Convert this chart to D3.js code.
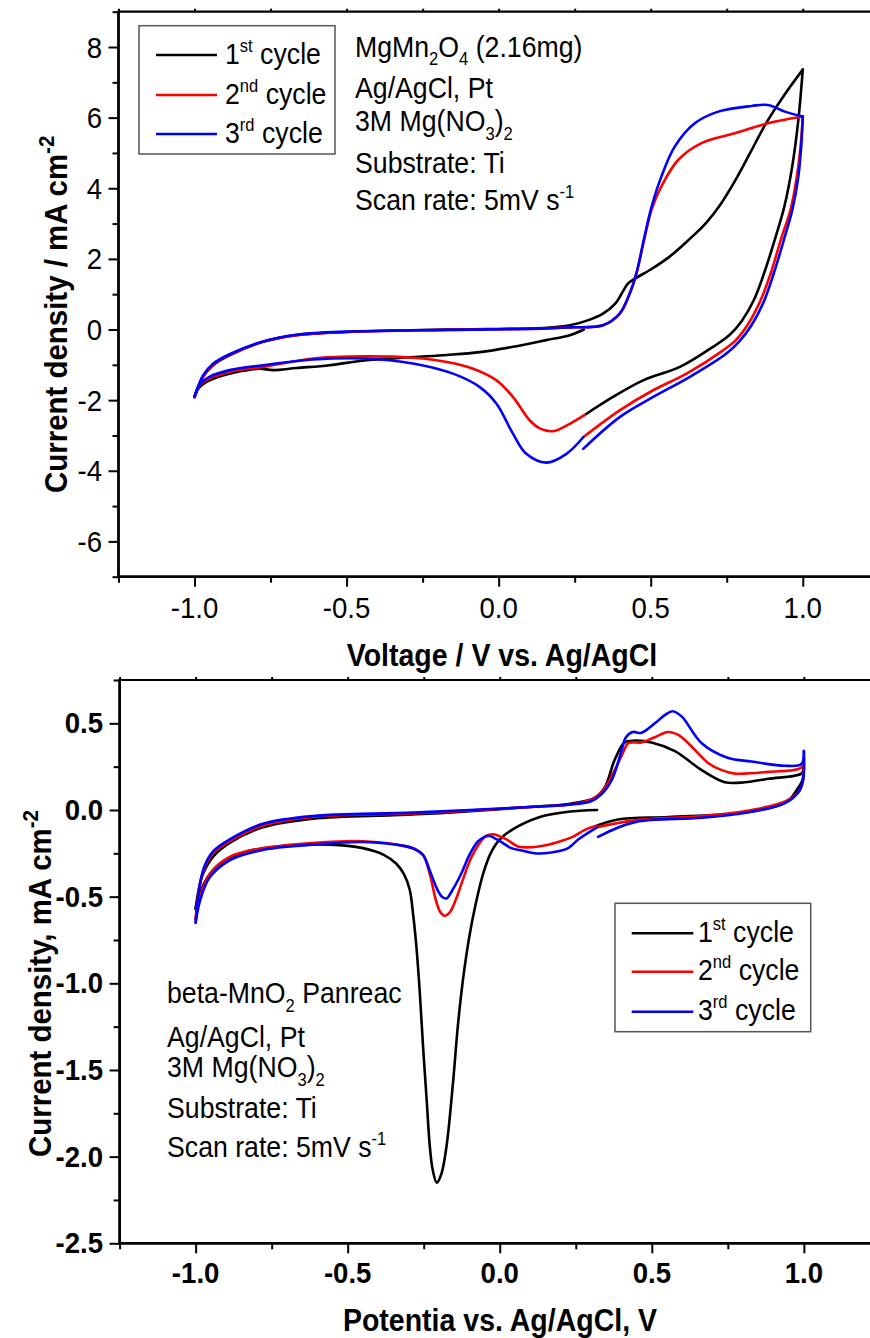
<!DOCTYPE html>
<html>
<head>
<meta charset="utf-8">
<script src="https://cdn.jsdelivr.net/npm/d3@7"></script>
<style>
  html, body { margin: 0; padding: 0; background: #fff; }
  svg { display: block; }
</style>
</head>
<body>
<svg id="fig" width="870" height="1338"></svg>
<script>
// ---------- data: cyclic voltammograms, [potential V, current density mA cm^-2] in scan order ----------

// Panel A: MgMn2O4 (2.16 mg), potential vs Ag/AgCl
const mgmnCycle1 = [
  [0.28, 0.0], [0.234, -0.16], [0.157, -0.3], [0.047, -0.49], [-0.062, -0.64], [-0.17, -0.72],
  [-0.282, -0.78], [-0.435, -0.87], [-0.556, -1.01], [-0.665, -1.09], [-0.742, -1.15], [-0.786, -1.11],
  [-0.84, -1.17], [-0.885, -1.25], [-0.951, -1.44], [-0.985, -1.65], [-1.0, -1.91],
  [-0.972, -1.34], [-0.939, -1.01], [-0.885, -0.73], [-0.775, -0.35], [-0.665, -0.16], [-0.5, -0.07],
  [-0.17, 0.0], [0.157, 0.05], [0.234, 0.12], [0.3, 0.28], [0.343, 0.45], [0.385, 0.75], [0.41, 1.1],
  [0.425, 1.3], [0.45, 1.45], [0.5, 1.7], [0.56, 2.05], [0.62, 2.5], [0.68, 3.0], [0.73, 3.55],
  [0.78, 4.25], [0.83, 5.05], [0.88, 5.85], [0.94, 6.65], [1.0, 7.36],
  [0.985, 5.9], [0.965, 4.6], [0.94, 3.5], [0.91, 2.6], [0.875, 1.65], [0.84, 0.85], [0.8, 0.25],
  [0.76, -0.15], [0.705, -0.49], [0.596, -1.06], [0.475, -1.44], [0.376, -1.91], [0.283, -2.42]
];
const mgmnCycle2 = [
  [0.283, -2.42], [0.234, -2.67], [0.179, -2.88], [0.135, -2.8], [0.102, -2.57], [0.047, -1.91],
  [-0.007, -1.44], [-0.084, -1.11], [-0.17, -0.92], [-0.282, -0.8], [-0.446, -0.76], [-0.61, -0.82],
  [-0.775, -1.06], [-0.885, -1.2], [-0.951, -1.39], [-0.985, -1.6], [-1.0, -1.91],
  [-0.972, -1.34], [-0.939, -1.0], [-0.885, -0.72], [-0.775, -0.35], [-0.665, -0.16], [-0.5, -0.07],
  [-0.17, -0.01], [0.157, 0.03], [0.234, 0.06], [0.343, 0.12], [0.398, 0.45], [0.431, 1.02],
  [0.453, 1.59], [0.48, 2.6], [0.503, 3.4], [0.535, 4.05], [0.59, 4.8], [0.667, 5.28], [0.777, 5.56],
  [0.886, 5.84], [0.941, 5.94], [1.0, 6.03],
  [0.993, 5.2], [0.98, 4.3], [0.96, 3.4], [0.93, 2.6], [0.895, 1.6], [0.86, 0.8], [0.82, 0.15],
  [0.78, -0.3], [0.738, -0.59], [0.618, -1.25], [0.508, -1.72], [0.398, -2.29], [0.278, -3.05]
];
const mgmnCycle3 = [
  [0.278, -3.05], [0.223, -3.52], [0.157, -3.77], [0.091, -3.52], [0.047, -2.95], [-0.007, -2.1],
  [-0.062, -1.63], [-0.15, -1.25], [-0.282, -0.96], [-0.446, -0.82], [-0.61, -0.85], [-0.775, -1.01],
  [-0.885, -1.15], [-0.951, -1.34], [-0.985, -1.58], [-1.0, -1.91],
  [-0.972, -1.3], [-0.939, -0.97], [-0.885, -0.7], [-0.775, -0.34], [-0.665, -0.15], [-0.5, -0.06],
  [-0.17, -0.01], [0.157, 0.03], [0.234, 0.06], [0.343, 0.12], [0.398, 0.45], [0.431, 1.02],
  [0.453, 1.59], [0.48, 2.65], [0.503, 3.48], [0.535, 4.33], [0.579, 5.18], [0.645, 5.84],
  [0.722, 6.17], [0.832, 6.33], [0.886, 6.36], [0.941, 6.17], [1.0, 6.03],
  [0.995, 5.2], [0.985, 4.3], [0.966, 3.4], [0.94, 2.6], [0.905, 1.6], [0.87, 0.75], [0.83, 0.1],
  [0.79, -0.35], [0.749, -0.68], [0.629, -1.34], [0.508, -1.91], [0.398, -2.48], [0.278, -3.38]
];

// Panel B: beta-MnO2 Panreac, potential vs Ag/AgCl
const betaCycle1 = [
  [0.32, 0.0], [0.225, -0.01], [0.132, -0.04], [0.044, -0.11], [0.0, -0.17], [-0.03, -0.25],
  [-0.055, -0.37], [-0.08, -0.55], [-0.1, -0.73], [-0.121, -0.98], [-0.138, -1.25], [-0.153, -1.56],
  [-0.175, -1.94], [-0.192, -2.1], [-0.207, -2.15], [-0.22, -2.08], [-0.23, -1.94], [-0.24, -1.68],
  [-0.252, -1.37], [-0.263, -1.05], [-0.274, -0.79], [-0.285, -0.6], [-0.296, -0.46], [-0.315, -0.37],
  [-0.34, -0.31], [-0.38, -0.26], [-0.45, -0.22], [-0.559, -0.2], [-0.724, -0.21], [-0.833, -0.24],
  [-0.921, -0.31], [-0.965, -0.4], [-0.99, -0.5], [-1.0, -0.57],
  [-0.99, -0.46], [-0.976, -0.37], [-0.943, -0.27], [-0.888, -0.19], [-0.779, -0.1], [-0.614, -0.05],
  [-0.35, -0.03], [-0.214, -0.02], [0.115, 0.02], [0.225, 0.035], [0.312, 0.07], [0.345, 0.13],
  [0.378, 0.29], [0.411, 0.39], [0.444, 0.4], [0.499, 0.39], [0.576, 0.34], [0.664, 0.23],
  [0.74, 0.16], [0.806, 0.16], [0.883, 0.18], [0.992, 0.21], [1.0, 0.24],
  [0.995, 0.17], [0.982, 0.13], [0.949, 0.055], [0.883, 0.01], [0.773, -0.02], [0.554, -0.04],
  [0.389, -0.055], [0.32, -0.09]
];
const betaCycle2 = [
  [0.32, -0.09], [0.28, -0.115], [0.24, -0.155], [0.2, -0.18], [0.159, -0.2], [0.104, -0.215],
  [0.06, -0.21], [0.022, -0.17], [-0.022, -0.14], [-0.045, -0.15], [-0.066, -0.19], [-0.095, -0.28],
  [-0.121, -0.4], [-0.145, -0.52], [-0.164, -0.59], [-0.181, -0.61], [-0.195, -0.59], [-0.21, -0.52],
  [-0.23, -0.37], [-0.252, -0.26], [-0.28, -0.225], [-0.307, -0.21], [-0.45, -0.18], [-0.614, -0.19],
  [-0.779, -0.22], [-0.888, -0.27], [-0.954, -0.37], [-0.985, -0.5], [-1.0, -0.63],
  [-0.985, -0.42], [-0.97, -0.33], [-0.943, -0.25], [-0.888, -0.18], [-0.779, -0.09], [-0.614, -0.04],
  [-0.285, -0.02], [0.132, 0.02], [0.225, 0.03], [0.3, 0.06], [0.334, 0.1], [0.378, 0.23],
  [0.405, 0.33], [0.422, 0.385], [0.44, 0.39], [0.466, 0.39], [0.51, 0.42], [0.554, 0.45],
  [0.59, 0.43], [0.62, 0.385], [0.686, 0.27], [0.73, 0.23], [0.773, 0.21], [0.883, 0.22],
  [0.992, 0.245], [1.0, 0.3],
  [0.997, 0.17], [0.985, 0.11], [0.938, 0.05], [0.828, 0.0], [0.664, -0.035], [0.444, -0.06],
  [0.32, -0.1]
];
const betaCycle3 = [
  [0.32, -0.1], [0.258, -0.17], [0.225, -0.22], [0.17, -0.245], [0.115, -0.25], [0.077, -0.235],
  [0.038, -0.22], [0.0, -0.18], [-0.033, -0.15], [-0.05, -0.155], [-0.071, -0.18], [-0.1, -0.26],
  [-0.126, -0.365], [-0.155, -0.46], [-0.175, -0.51], [-0.19, -0.5], [-0.205, -0.46], [-0.23, -0.35],
  [-0.252, -0.26], [-0.28, -0.225], [-0.307, -0.21], [-0.45, -0.185], [-0.614, -0.2], [-0.779, -0.23],
  [-0.888, -0.29], [-0.954, -0.39], [-0.985, -0.52], [-1.0, -0.65],
  [-0.985, -0.42], [-0.97, -0.32], [-0.943, -0.24], [-0.888, -0.17], [-0.779, -0.08], [-0.614, -0.035],
  [-0.285, -0.015], [0.132, 0.02], [0.225, 0.03], [0.3, 0.05], [0.334, 0.09], [0.37, 0.18],
  [0.4, 0.34], [0.415, 0.42], [0.437, 0.45], [0.466, 0.445], [0.51, 0.5], [0.545, 0.55],
  [0.568, 0.57], [0.598, 0.54], [0.664, 0.385], [0.751, 0.3], [0.828, 0.28], [0.938, 0.255],
  [0.992, 0.265], [1.0, 0.34],
  [0.998, 0.18], [0.985, 0.11], [0.938, 0.04], [0.828, -0.01], [0.664, -0.045], [0.444, -0.07],
  [0.323, -0.155]
];

// legend entries and axis ticks
const cycleOrdinals = ["1", "2", "3"];
const cycleSuffixes = ["st", "nd", "rd"];
const potentialTicks = [-1.0, -0.5, 0.0, 0.5, 1.0];
const potentialMinorTicks = [-1.25, -0.75, -0.25, 0.25, 0.75, 1.25];
const mgmnCurrentTicks = [-6, -4, -2, 0, 2, 4, 6, 8];
const mgmnCurrentMinorTicks = [-7, -5, -3, -1, 1, 3, 5, 7, 9];
const betaCurrentTicks = [-2.5, -2.0, -1.5, -1.0, -0.5, 0.0, 0.5];
const betaCurrentMinorTicks = [-2.25, -1.75, -1.25, -0.75, -0.25, 0.25, 0.75];

// ---------- drawing ----------
const FONT = "'Liberation Sans', Arial, Helvetica, sans-serif";
const SX = 0.92;                       // slightly condensed lettering
const cycleColors = ["#000000", "#ff0000", "#0000ff"];
const svg = d3.select("#fig");

// text with optional sub/superscript parts, drawn horizontally condensed
function addText(parent, x, y, parts, o) {
  const g = parent.append("g")
    .attr("transform", `translate(${x},${y})` + (o.rotate ? ` rotate(${o.rotate})` : "") + ` scale(${o.sx ?? SX},1)`);
  const t = g.append("text")
    .attr("font-family", FONT)
    .attr("font-size", o.size)
    .attr("font-weight", o.weight || "normal")
    .attr("text-anchor", o.anchor || "start")
    .attr("fill", "#000");
  let shift = 0;
  for (const p of parts) {
    const item = typeof p === "string" ? { t: p } : p;
    const target = item.sup !== undefined ? -0.42 * o.size : item.sub !== undefined ? 0.3 * o.size : 0;
    const ts = t.append("tspan").text(item.t ?? item.sup ?? item.sub);
    if (target !== shift) { ts.attr("dy", target - shift); shift = target; }
    if (item.sup !== undefined || item.sub !== undefined) ts.attr("font-size", o.size * (o.supScale || 0.62));
  }
  return g;
}

// split a scan at the switching potentials so the turning points stay sharp
function sweeps(points) {
  const out = [];
  let cur = [points[0]];
  for (let i = 1; i < points.length; i++) {
    cur.push(points[i]);
    if (Math.abs(points[i][0]) === 1 && i < points.length - 1) { out.push(cur); cur = [points[i]]; }
  }
  out.push(cur);
  return out;
}

function panel(cfg) {
  const g = svg.append("g");
  const x = d3.scaleLinear().domain([-1.25, 1.25]).range(cfg.xRange);
  const y = d3.scaleLinear().domain(cfg.yDomain).range(cfg.yRange);
  const [x0] = cfg.xRange;
  const yBottom = cfg.yRange[0], yTop = cfg.yRange[1];

  const styleAxis = sel => {
    sel.select(".domain").remove();
    sel.selectAll("line").attr("stroke", "#000").attr("stroke-width", 2);
    sel.selectAll("text").remove();
  };

  // ticks
  g.append("g").attr("transform", `translate(0,${yBottom})`)
    .call(d3.axisBottom(x).tickValues(potentialTicks).tickSize(10)).call(styleAxis);
  g.append("g").attr("transform", `translate(0,${yBottom})`)
    .call(d3.axisBottom(x).tickValues(potentialMinorTicks).tickSize(6)).call(styleAxis);
  g.append("g").attr("transform", `translate(0,${yTop})`)
    .call(d3.axisTop(x).tickValues(potentialTicks.concat(potentialMinorTicks)).tickSize(3)).call(styleAxis);
  g.append("g").attr("transform", `translate(${x0},0)`)
    .call(d3.axisLeft(y).tickValues(cfg.yTicks).tickSize(10)).call(styleAxis);
  g.append("g").attr("transform", `translate(${x0},0)`)
    .call(d3.axisLeft(y).tickValues(cfg.yMinor).tickSize(6)).call(styleAxis);

  // frame
  g.append("line").attr("x1", x0).attr("x2", 880).attr("y1", yTop).attr("y2", yTop)
    .attr("stroke", "#000").attr("stroke-width", 2.2);
  g.append("line").attr("x1", x0).attr("x2", 880).attr("y1", yBottom).attr("y2", yBottom)
    .attr("stroke", "#000").attr("stroke-width", 2.8);
  g.append("line").attr("x1", x0).attr("x2", x0).attr("y1", yTop - 1).attr("y2", yBottom + 1.4)
    .attr("stroke", "#000").attr("stroke-width", 2.8);

  // tick labels
  potentialTicks.forEach(v => addText(g, x(v), cfg.xLabelBase, [v.toFixed(1)],
    { size: cfg.tickSize, weight: cfg.tickWeight, anchor: "middle" }));
  cfg.yTicks.forEach(v => addText(g, cfg.yLabelRight, y(v) + cfg.yLabelDy, [cfg.yFormat(v)],
    { size: cfg.tickSize, weight: cfg.tickWeight, anchor: "end" }));

  // axis titles
  addText(g, cfg.xTitle[0], cfg.xTitle[1], cfg.xTitleParts, { size: 31, weight: "bold", anchor: "middle" });
  addText(g, cfg.yTitle[0], cfg.yTitle[1], cfg.yTitleParts,
    { size: 31, weight: "bold", rotate: -90, sx: 0.95, supScale: 0.7 });

  // curves
  const line = d3.line().x(d => x(d[0])).y(d => y(d[1])).curve(d3.curveCatmullRom.alpha(0.5));
  cfg.cycles.forEach((pts, i) => {
    sweeps(pts).forEach(seg => {
      g.append("path").attr("d", line(seg)).attr("fill", "none")
        .attr("stroke", cycleColors[i]).attr("stroke-width", 2.6)
        .attr("stroke-linejoin", "round").attr("stroke-linecap", "round");
    });
  });

  // legend
  const L = cfg.legend;
  g.append("rect").attr("x", L.x).attr("y", L.y).attr("width", L.w).attr("height", L.h)
    .attr("fill", "#fff").attr("stroke", "#555").attr("stroke-width", 1.5);
  cycleOrdinals.forEach((n, i) => {
    g.append("line").attr("x1", L.lineX[0]).attr("x2", L.lineX[1])
      .attr("y1", L.rows[i]).attr("y2", L.rows[i])
      .attr("stroke", cycleColors[i]).attr("stroke-width", 2.6);
    addText(g, L.textX, L.rows[i] + L.textDy, [n, { sup: cycleSuffixes[i] }, " cycle"], { size: 29 });
  });

  // experimental conditions
  cfg.notes.forEach((parts, i) => addText(g, cfg.notesX, cfg.notesBase[i], parts, { size: 29 }));
}

const conditionLines = [
  ["Ag/AgCl, Pt"],
  ["3M Mg(NO", { sub: "3" }, ")", { sub: "2" }],
  ["Substrate: Ti"],
  ["Scan rate: 5mV s", { sup: "-1" }]
];

panel({
  xRange: [118.5, 878.8],
  yDomain: [-7, 9], yRange: [576.7, 11.7],
  yTicks: mgmnCurrentTicks, yMinor: mgmnCurrentMinorTicks,
  yFormat: v => String(v),
  tickSize: 30, tickWeight: "normal",
  xLabelBase: 618, yLabelRight: 102, yLabelDy: 10.5,
  xTitle: [502, 666], xTitleParts: ["Voltage / V vs. Ag/AgCl"],
  yTitle: [67, 493], yTitleParts: ["Current density / mA cm", { sup: "-2" }],
  cycles: [mgmnCycle1, mgmnCycle2, mgmnCycle3],
  legend: { x: 139, y: 25.7, w: 196, h: 128.3, lineX: [156, 217], rows: [55, 95, 134], textX: 225, textDy: 9 },
  notesX: 355, notesBase: [56.7, 98.3, 131, 172.7, 210],
  notes: [["MgMn", { sub: "2" }, "O", { sub: "4" }, " (2.16mg)"]].concat(conditionLines)
});

panel({
  xRange: [119.6, 879.9],
  yDomain: [-2.5, 0.75], yRange: [1243.3, 680],
  yTicks: betaCurrentTicks, yMinor: betaCurrentMinorTicks,
  yFormat: v => v.toFixed(1),
  tickSize: 30, tickWeight: "bold",
  xLabelBase: 1283, yLabelRight: 103, yLabelDy: 10,
  xTitle: [500, 1331], xTitleParts: ["Potentia vs. Ag/AgCl, V"],
  yTitle: [51, 1157], yTitleParts: ["Current density, mA cm", { sup: "-2" }],
  cycles: [betaCycle1, betaCycle2, betaCycle3],
  legend: { x: 615, y: 903.3, w: 195.7, h: 128.4, lineX: [631.7, 693.3], rows: [933.3, 971.7, 1011.7], textX: 698, textDy: 8.5 },
  notesX: 167, notesBase: [1003.3, 1046.7, 1077, 1118.3, 1157],
  notes: [["beta-MnO", { sub: "2" }, " Panreac"]].concat(conditionLines)
});
</script>
</body>
</html>
